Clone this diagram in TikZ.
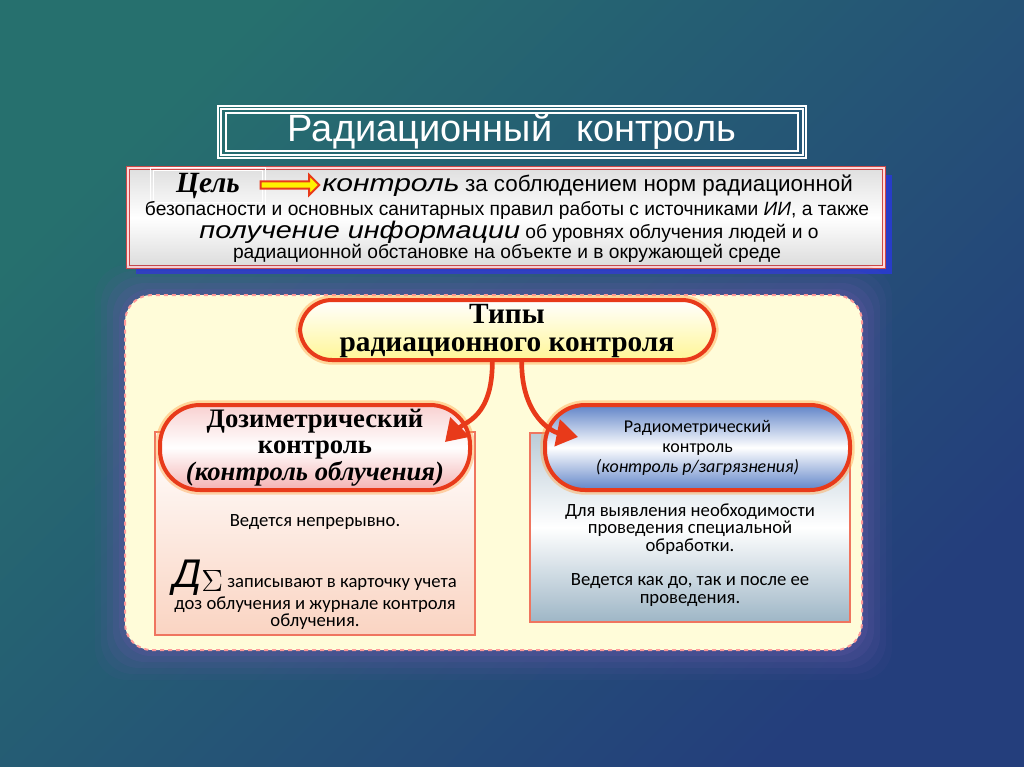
\documentclass[tikz,border=0pt]{standalone}
\usepackage{fontspec}
\setmainfont{Liberation Serif}
\setsansfont{Liberation Sans}
\newfontfamily\calibri{Carlito}
\usetikzlibrary{positioning,fit,shapes.arrows,arrows.meta,shadows}

\definecolor{bgteal}{RGB}{38,112,110}
\definecolor{bgblue}{RGB}{36,62,124}
\definecolor{halo}{RGB}{92,86,160}
\definecolor{panelyellow}{RGB}{255,252,210}
\definecolor{framered}{RGB}{232,58,26}
\definecolor{goalred}{RGB}{205,70,70}
\definecolor{shadowblue}{RGB}{40,60,200}
\definecolor{peach}{RGB}{250,212,194}
\definecolor{hdrpink}{RGB}{244,178,178}
\definecolor{hdrblue}{RGB}{96,132,200}
\definecolor{slate}{RGB}{158,182,198}
\definecolor{typesyellow}{RGB}{255,246,150}

\newcommand{\wide}[2]{\scalebox{#1}[1]{#2}}

\tikzset{
  titlebox/.style={draw=white, line width=1.2pt, inner sep=0pt},
  goalbox/.style={draw=goalred, line width=0.8pt, double=pink!60!white,
    double distance=1pt, inner sep=0pt, top color=gray!25, bottom color=gray!28,
    middle color=white,
    drop shadow={shadow xshift=6pt, shadow yshift=-5pt, fill=shadowblue, opacity=1}},
  goaltext/.style={font=\sffamily\fontsize{14.4}{15}\selectfont, inner sep=0pt},
  glow/.style={preaction={draw=orange!70!white, line width=7pt, opacity=0.45}},
  typesbox/.style={glow, draw=framered, line width=3pt, rounded corners=24pt,
    inner sep=0pt, top color=white, bottom color=typesyellow},
  hdrleft/.style={glow, draw=framered, line width=3pt, rounded corners=30pt,
    inner sep=0pt, top color=hdrpink!60!white, bottom color=hdrpink,
    middle color=white},
  hdrright/.style={glow, draw=framered, line width=3pt, rounded corners=30pt,
    inner sep=0pt, top color=hdrblue, bottom color=hdrblue, middle color=white},
  bodyleft/.style={draw=framered!70!white, line width=0.8pt, inner sep=0pt,
    top color=white, bottom color=peach},
  bodyright/.style={draw=framered!70!white, line width=0.8pt, inner sep=0pt,
    top color=slate!70!white, bottom color=slate, middle color=white},
  notetext/.style={align=center, font=\calibri\fontsize{14}{13}\selectfont},
  linkarrow/.style={draw=framered, line width=3.5pt,
    -{Triangle[length=16pt,width=20pt]}}
}

\begin{document}
\begin{tikzpicture}[x=0.75pt,y=-0.75pt]
  % background
  \path[use as bounding box, shading=axis, top color=bgteal, bottom color=bgblue,
    shading angle=45] (0,0) rectangle (1024,767);

  % heading
  \node[titlebox, fit={(218,106) (806,158)}] (title) {};
  \node[titlebox, line width=0.8pt, fit={(221,109) (803,155)}] (titlemid) {};
  \node[titlebox, fit={(226,113) (798,151)}] (titlein) {};
  \node[text=white, font=\sffamily\fontsize{28.5}{30}\selectfont] (titletext)
    at (512,131) {Радиационный\hspace{0.35em} контроль};

  % goal
  \node[goalbox, fit={(128,168) (884,267)}] (goal) {};
  \draw[white, line width=0.7pt] (150,167) rectangle (265,205);
  \draw[white, line width=0.7pt] (153,170) rectangle (262,202);
  \node[font=\bfseries\itshape\fontsize{22}{22}\selectfont] (aim) at (208,186) {Цель};
  \node[single arrow, fill=yellow, draw=framered, line width=1.5pt,
    minimum height=44pt, minimum width=15pt, single arrow head extend=3pt,
    inner sep=1pt] (aimarrow) at (288,185) {};
  \node[goaltext, anchor=west] (line1) at (322,186)
    {\wide{1.25}{\itshape\fontsize{18}{18}\selectfont контроль}
     {\fontsize{16.8}{18}\selectfont за соблюдением норм радиационной}};
  \node[goaltext] (line2) at (507,210)
    {безопасности и основных санитарных правил работы с источниками \textit{ИИ}, а также};
  \node[goaltext] (line3) at (509,232.5)
    {\wide{1.2}{\itshape\fontsize{18}{18}\selectfont получение информации} об уровнях облучения людей и о};
  \node[goaltext] (line4) at (507,253)
    {радиационной обстановке на объекте и в окружающей среде};

  % panel with halo
  \foreach \d/\o in {30/0.08,24/0.12,18/0.16,12/0.22,6/0.3}
    \fill[halo, opacity=\o, rounded corners=24pt]
      (125-\d,295-\d) rectangle (862+\d,650+\d);
  \fill[panelyellow!85!white, rounded corners=20pt] (125,295) rectangle (862,650);
  \draw[pink!80!red, line width=1.5pt, dashed, rounded corners=20pt]
    (125,295) rectangle (862,650);

  % type boxes
  \node[bodyleft, fit={(155,432) (475,635)}] (dosebody) {};
  \node[bodyright, fit={(530,433) (850,622)}] (radbody) {};

  \node[typesbox, fit={(300,300) (714,360)}] (types) {};
  \node[font=\bfseries\fontsize{22}{21}\selectfont, align=center] (typestext)
    at (507,331) {Типы\\радиационного контроля};

  \node[hdrleft, fit={(160,405) (470,490)}] (dose) {};
  \node[font=\bfseries\fontsize{20}{20}\selectfont, align=center] (dosetext)
    at (dose.center) {Дозиметрический\\контроль\\\textit{(контроль облучения)}};

  \node[hdrright, fit={(545,405) (850,490)}] (rad) {};
  \node[font=\calibri\fontsize{13.5}{15}\selectfont, align=center] (radtext)
    at (rad.center) {Радиометрический\\контроль\\\textit{(контроль р/загрязнения)}};

  % links
  \coordinate (doseend) at (445,442);
  \coordinate (radend) at (578,437);
  \draw[linkarrow] ([xshift=-11pt]types.south) .. controls +(0,55) and +(20,-20) .. (doseend);
  \draw[linkarrow] ([xshift=11pt]types.south) .. controls +(0,55) and +(-25,-5) .. (radend);

  % notes
  \node[notetext] (dosenote1) at (315,522) {Ведется непрерывно.};
  \node[notetext, anchor=north] (dosenote2) at (315,555)
    {{\sffamily\itshape\fontsize{30}{28}\selectfont Д}\raisebox{-3pt}{\scalebox{1.6}{$\Sigma$}}
     записывают в карточку учета\\
     доз облучения и журнале контроля\\облучения.};
  \node[notetext] (radnote1) at (690,529)
    {Для выявления необходимости\\проведения специальной\\обработки.};
  \node[notetext] (radnote2) at (690,590)
    {Ведется как до, так и после ее\\проведения.};
\end{tikzpicture}
\end{document}
